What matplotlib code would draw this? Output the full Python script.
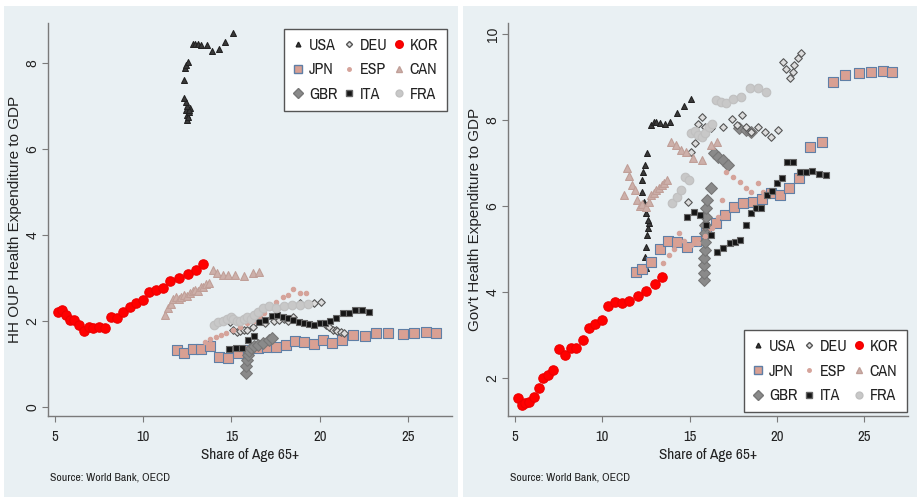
import numpy as np
import matplotlib.pyplot as plt
from matplotlib.patches import Rectangle
from matplotlib.lines import Line2D

# share of population aged 65+ and health spending (% of GDP) by country
usa_share = [12.5, 12.45, 12.5, 12.56, 12.6, 12.67, 12.6, 12.5, 12.4, 12.3, 12.3, 12.35,
             12.45, 12.56, 12.8, 12.95, 13.1, 13.3, 13.6, 13.9, 14.3, 14.66, 15.06]
usa_oop = [6.8, 6.9, 6.67, 6.75, 6.85, 6.95, 6.9, 7.0, 7.1, 7.19, 7.6, 7.88,
           7.95, 8.02, 8.45, 8.45, 8.43, 8.42, 8.42, 8.28, 8.33, 8.49, 8.7]
usa_gov = [4.56, 4.81, 5.05, 5.33, 5.5, 5.6, 5.67, 5.84, 6.1, 6.33, 6.6, 6.8,
           6.95, 7.23, 7.88, 7.95, 7.95, 7.93, 7.9, 7.95, 8.17, 8.33, 8.49]

jpn_share = [11.9, 12.3, 12.8, 13.3, 13.77, 14.28, 14.82, 15.35, 15.95, 16.5, 17.0, 17.53, 18.08, 18.6,
             19.12, 19.67, 20.2, 20.7, 21.27, 21.9, 22.55, 23.2, 23.9, 24.7, 25.37, 26.05, 26.6]
jpn_oop = [1.33, 1.26, 1.35, 1.35, 1.42, 1.17, 1.14, 1.26, 1.33, 1.37, 1.4, 1.4, 1.44, 1.53,
           1.51, 1.47, 1.56, 1.49, 1.56, 1.67, 1.65, 1.72, 1.72, 1.7, 1.72, 1.75, 1.72]
jpn_gov = [4.47, 4.53, 4.7, 5.0, 5.19, 5.16, 5.05, 5.19, 5.37, 5.6, 5.79, 5.98, 6.07, 6.1,
           6.16, 6.3, 6.26, 6.42, 6.65, 7.37, 7.49, 8.88, 9.05, 9.09, 9.12, 9.14, 9.12]

gbr_share_oop = [15.8, 15.85, 15.9, 15.95, 16.0, 16.1, 16.25, 16.5, 16.8, 17.1, 17.3]
gbr_oop = [0.79, 0.95, 1.09, 1.2, 1.3, 1.36, 1.42, 1.44, 1.49, 1.56, 1.6]
gbr_share_gov = [15.8, 15.8, 15.82, 15.82, 15.85, 15.85, 15.88, 15.9, 15.92, 15.95,
                 16.0, 16.25, 16.4, 16.65, 16.9, 17.2, 17.8, 18.2, 18.5]
gbr_gov = [4.28, 4.44, 4.63, 4.79, 4.98, 5.16, 5.37, 5.56, 5.74, 5.95,
           6.14, 6.42, 7.23, 7.14, 7.07, 6.95, 7.81, 7.77, 7.72]

deu_share = [14.9, 15.1, 15.3, 15.5, 15.7, 15.9, 16.2, 16.9, 17.4, 17.7, 18.0, 18.2,
             18.5, 18.9, 19.3, 19.65, 20.05, 20.35, 20.5, 20.75, 20.9, 21.0, 21.2, 21.35]
deu_oop = [1.98, 1.78, 1.75, 1.76, 1.78, 1.8, 1.85, 1.95, 2.0, 2.02, 2.05, 2.0,
           2.1, 2.42, 2.4, 2.42, 2.44, 1.9, 1.85, 1.8, 1.79, 1.77, 1.75, 1.72]
deu_gov = [6.1, 7.26, 7.46, 7.9, 8.07, 7.84, 7.81, 7.84, 8.02, 7.88, 8.12, 7.84,
           7.72, 7.84, 7.72, 7.6, 7.77, 9.35, 9.2, 8.97, 9.12, 9.28, 9.44, 9.56]

esp_share = [13.5, 13.8, 14.1, 14.4, 14.7, 15.1, 15.5, 15.9, 16.3, 16.6, 16.85, 17.1,
             17.5, 17.9, 18.2, 18.5, 18.9, 19.2]
esp_oop = [1.5, 1.58, 1.62, 1.68, 1.73, 1.78, 1.85, 1.95, 2.0, 2.1, 2.18, 2.3,
           2.45, 2.55, 2.6, 2.74, 2.65, 2.65]
esp_gov = [4.67, 4.86, 5.0, 5.37, 5.2, 5.1, 5.15, 5.3, 5.5, 5.74, 6.14, 6.8,
           6.68, 6.56, 6.42, 6.33, 6.53, 6.33]

ita_share = [14.85, 15.25, 15.6, 15.95, 16.25, 16.55, 16.9, 17.3, 17.6, 17.9, 18.2, 18.5, 18.8,
             19.1, 19.4, 19.7, 20.0, 20.3, 20.6, 20.9, 21.3, 21.65, 22.0, 22.4, 22.8]
ita_oop = [1.35, 1.37, 1.37, 1.56, 1.65, 1.98, 2.02, 2.12, 2.14, 2.1, 2.07, 2.02, 1.98,
           1.95, 1.93, 1.91, 1.95, 1.95, 2.0, 2.07, 2.19, 2.19, 2.26, 2.26, 2.21]
ita_gov = [5.74, 5.86, 5.79, 5.56, 5.33, 4.93, 5.02, 5.14, 5.16, 5.21, 5.56, 5.84, 5.95,
           5.95, 6.26, 6.35, 6.53, 6.65, 7.02, 7.02, 6.8, 6.8, 6.82, 6.74, 6.72]

kor_share = [5.17, 5.42, 5.6, 5.82, 6.09, 6.36, 6.62, 6.9, 7.16, 7.5, 7.84, 8.18, 8.52,
             8.87, 9.23, 9.6, 9.97, 10.3, 10.7, 11.1, 11.5, 12.02, 12.52, 13.0, 13.4]
kor_oop = [2.21, 2.26, 2.14, 2.02, 2.02, 1.91, 1.77, 1.86, 1.84, 1.86, 1.84, 2.1, 2.07,
           2.21, 2.33, 2.42, 2.49, 2.67, 2.72, 2.77, 2.93, 3.0, 3.09, 3.19, 3.33]
kor_gov = [1.53, 1.37, 1.42, 1.44, 1.56, 1.77, 2.0, 2.07, 2.19, 2.67, 2.53, 2.7, 2.7,
           2.88, 3.16, 3.26, 3.35, 3.67, 3.77, 3.74, 3.8, 3.9, 4.02, 4.2, 4.35]

can_share = [11.25, 11.4, 11.55, 11.7, 11.85, 12.0, 12.15, 12.3, 12.5, 12.65, 12.8, 12.95, 13.1,
             13.25, 13.4, 13.55, 13.7, 13.95, 14.2, 14.5, 14.8, 15.2, 15.7, 16.2, 16.55]
can_oop = [2.14, 2.3, 2.4, 2.5, 2.55, 2.5, 2.55, 2.6, 2.58, 2.65, 2.7, 2.72, 2.7,
           2.78, 2.8, 2.85, 2.88, 3.19, 3.12, 3.07, 3.07, 3.07, 3.05, 3.12, 3.14]
can_gov = [6.26, 6.88, 6.7, 6.5, 6.37, 6.14, 6.0, 6.05, 5.98, 6.1, 6.26, 6.3, 6.37,
           6.42, 6.49, 6.55, 6.6, 7.49, 7.42, 7.3, 7.26, 7.12, 7.07, 7.42, 7.49]

fra_share = [14.0, 14.25, 14.5, 14.75, 14.95, 15.1, 15.3, 15.5, 15.7, 15.9,
             16.1, 16.3, 16.5, 16.8, 17.1, 17.5, 17.95, 18.45, 18.9, 19.35]
fra_oop = [1.9, 1.97, 2.0, 2.05, 2.1, 2.05, 2.0, 2.0, 2.05, 2.1,
           2.05, 2.15, 2.2, 2.3, 2.35, 2.3, 2.35, 2.36, 2.38, 2.4]
fra_gov = [6.07, 6.21, 6.37, 6.68, 6.6, 7.7, 7.75, 7.65, 7.6, 7.7,
           7.85, 7.9, 8.47, 8.42, 8.4, 8.49, 8.54, 8.74, 8.74, 8.65]

countries = ['USA', 'JPN', 'GBR', 'DEU', 'ESP', 'ITA', 'KOR', 'CAN', 'FRA']

# marker style per country: (marker, size, face, edge)
styles = {
    'USA': ('^', 18, '#3a3a3a', '#222222'),
    'JPN': ('s', 44, '#d9a093', '#5f7fa6'),
    'GBR': ('D', 36, '#8a8a8a', '#777777'),
    'DEU': ('D', 15, '#dcdcdc', '#555555'),
    'ESP': ('o', 10, '#d5a39a', '#d5a39a'),
    'ITA': ('s', 25, '#151515', '#666666'),
    'KOR': ('o', 46, '#ff0000', '#ee0000'),
    'CAN': ('^', 32, '#cdb0aa', '#c09f98'),
    'FRA': ('o', 38, '#c8c8c8', '#c0c0c0'),
}

oop_series = [('USA', usa_share, usa_oop), ('JPN', jpn_share, jpn_oop),
              ('GBR', gbr_share_oop, gbr_oop), ('DEU', deu_share, deu_oop),
              ('ESP', esp_share, esp_oop), ('ITA', ita_share, ita_oop),
              ('KOR', kor_share, kor_oop), ('CAN', can_share, can_oop),
              ('FRA', fra_share, fra_oop)]
gov_series = [('USA', usa_share, usa_gov), ('JPN', jpn_share, jpn_gov),
              ('GBR', gbr_share_gov, gbr_gov), ('DEU', deu_share, deu_gov),
              ('ESP', esp_share, esp_gov), ('ITA', ita_share, ita_gov),
              ('KOR', kor_share, kor_gov), ('CAN', can_share, can_gov),
              ('FRA', fra_share, fra_gov)]

BG = '#e9f0f3'
AX_COL = '#7a7a7a'
TXT = '#222222'
NARROW = ['Archivo Narrow', 'Liberation Sans', 'DejaVu Sans']
WIDE = ['Liberation Sans', 'DejaVu Sans']
plt.rcParams['font.family'] = NARROW

W, H = 917, 501
fig = plt.figure(figsize=(W / 100, H / 100), dpi=100, facecolor='white')

# two grey panels separated by a thin white gap
fig.add_artist(Rectangle((4 / W, 4 / H), 454 / W, 491 / H, transform=fig.transFigure,
                         facecolor=BG, edgecolor='none', zorder=0))
fig.add_artist(Rectangle((463 / W, 4 / H), 454 / W, 491 / H, transform=fig.transFigure,
                         facecolor=BG, edgecolor='none', zorder=0))


def make_axes(left_px, right_px, top_px, bottom_px):
    return fig.add_axes([left_px / W, 1 - bottom_px / H,
                         (right_px - left_px) / W, (bottom_px - top_px) / H])


def legend_handles():
    handles = []
    for name in countries:
        m, s, fc, ec = styles[name]
        handles.append(Line2D([], [], linestyle='none', marker=m, markersize=np.sqrt(s) * 0.8,
                              markerfacecolor=fc, markeredgecolor=ec, label=name))
    return handles


def draw_panel(ax, series, ylim, yticks, ylabel, legend_loc, legend_anchor):
    ax.set_facecolor(BG)
    for name, xs, ys in series:
        m, s, fc, ec = styles[name]
        ax.scatter(xs, ys, marker=m, s=s, facecolor=fc, edgecolor=ec, linewidths=0.8, zorder=3)
    ax.set_xlim(4.6, 27.5)
    ax.set_ylim(*ylim)
    ax.set_xticks([5, 10, 15, 20, 25])
    ax.set_yticks(yticks)
    ax.tick_params(axis='both', colors=AX_COL, labelcolor=TXT, length=4, width=0.8)
    ax.tick_params(axis='x', labelsize=10.5, pad=6)
    ax.tick_params(axis='y', pad=2)
    for lab in ax.get_yticklabels():
        lab.set_rotation(90)
        lab.set_va('center')
        lab.set_family(WIDE)
        lab.set_fontsize(10)
    for side in ['top', 'right']:
        ax.spines[side].set_visible(False)
    for side in ['left', 'bottom']:
        ax.spines[side].set_color(AX_COL)
        ax.spines[side].set_linewidth(1.0)
    ax.set_xlabel('Share of Age 65+', fontsize=11, color=TXT, labelpad=3)
    ax.set_ylabel(ylabel, fontsize=11, color=TXT, family=WIDE)
    ax.yaxis.set_label_coords(-0.064, 0.5)
    leg = ax.legend(handles=legend_handles(), ncol=3, loc=legend_loc,
                    bbox_to_anchor=legend_anchor, bbox_transform=fig.transFigure,
                    prop={'family': NARROW, 'size': 11.5}, frameon=True, fancybox=False,
                    handletextpad=0.4, handlelength=0.6, columnspacing=0.4,
                    labelspacing=0.6, borderpad=0.55, borderaxespad=0)
    leg.get_frame().set_edgecolor('#555555')
    leg.get_frame().set_linewidth(1.0)
    leg.get_frame().set_facecolor('white')
    leg.get_frame().set_alpha(1)
    for t in leg.get_texts():
        t.set_color(TXT)


ax1 = make_axes(48, 452, 23, 416)
draw_panel(ax1, oop_series, (-0.21, 8.93), [0, 2, 4, 6, 8],
           'HH OUP Health Expenditure to GDP', 'upper right', (447 / W, 1 - 29 / H))

ax2 = make_axes(508, 908, 23, 416)
draw_panel(ax2, gov_series, (1.12, 10.26), [2, 4, 6, 8, 10],
           "Gov't Health Expenditure to GDP", 'lower right', (907 / W, 1 - 412 / H))

for x0 in (50, 510):
    fig.text(x0 / W, 1 - 478 / H, 'Source: World Bank, OECD', fontsize=8.5, color=TXT, va='center')

fig.savefig('out.png', dpi=100, facecolor='white')
